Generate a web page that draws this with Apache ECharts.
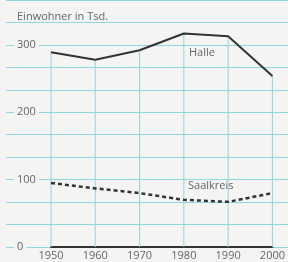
<!DOCTYPE html>
<html>
<head>
<meta charset="utf-8">
<script src="https://cdn.jsdelivr.net/npm/echarts@6/dist/echarts.min.js"></script>
<style>
  html, body { margin: 0; padding: 0; background: #f4f4f2; }
  #myechart { width: 288px; height: 262px; }
</style>
</head>
<body>
<div id="myechart"></div>
<script>
// data (thousands of inhabitants)
var years = [1950, 1960, 1970, 1980, 1990, 2000];
var halle = [289, 278, 292, 317, 313, 254];
var saalkreis = [95, 87, 80, 70, 67, 80];
var yTicks = [0, 100, 200, 300];

var bg = '#f4f4f2';
var gridColor = '#8fd6e4';
var lineColor = '#333336';
var textColor = '#666';
var font = 'Open Sans';

function pairs(xs, ys) {
  return xs.map(function (x, i) { return [x, ys[i]]; });
}

var yMax = 1100 / 3;
var yStep = 100 / 3;

var myechart = echarts.init(document.getElementById('myechart'));
myechart.setOption({
  backgroundColor: bg,
  animation: false,
  textStyle: { fontFamily: font },
  grid: [
    // wide grid: horizontal rules and y labels
    { left: 6, right: 0, top: 0, bottom: 15 },
    // plot grid
    { left: 51, right: 13, top: 0, bottom: 15 }
  ],
  xAxis: [
    { gridIndex: 0, type: 'value', min: 0, max: 1, show: false },
    {
      gridIndex: 1, type: 'value', min: 1950, max: 2000, interval: 10,
      axisLine: { show: true, onZero: false, lineStyle: { color: lineColor, width: 2 } },
      axisTick: { show: false },
      splitLine: { show: false },
      axisLabel: {
        color: textColor, fontSize: 11, margin: 3, fontFamily: font,
        formatter: function (v) { return String(v); }
      }
    }
  ],
  yAxis: [
    {
      gridIndex: 0, type: 'value', min: 0, max: yMax, interval: yStep,
      axisLine: { show: false },
      axisTick: { show: false },
      splitLine: { show: true, lineStyle: { color: [gridColor], width: 1, opacity: 1 } },
      axisLabel: {
        inside: true, margin: 8, color: textColor, fontSize: 11, fontFamily: font,
        backgroundColor: bg, padding: [0, 3],
        formatter: function (v) {
          var r = Math.round(v);
          return yTicks.indexOf(r) >= 0 && Math.abs(v - r) < 0.01 ? String(r) : '';
        }
      }
    },
    {
      gridIndex: 1, type: 'value', min: 0, max: yMax,
      show: false, splitLine: { show: false }
    }
  ],
  graphic: [
    { type: 'text', left: 17, top: 11, style: { text: 'Einwohner in Tsd.', fill: textColor, font: '11px "Open Sans"' } },
    { type: 'text', left: 189, top: 47, style: { text: 'Halle', fill: textColor, font: '11px "Open Sans"' } },
    { type: 'text', left: 188, top: 180, style: { text: 'Saalkreis', fill: textColor, font: '11px "Open Sans"' } }
  ],
  series: [
    {
      // drop lines from the Halle points
      type: 'bar', xAxisIndex: 1, yAxisIndex: 1,
      data: pairs(years, halle),
      barWidth: 1,
      itemStyle: { color: gridColor },
      silent: true, z: 1
    },
    {
      name: 'Halle', type: 'line', xAxisIndex: 1, yAxisIndex: 1,
      data: pairs(years, halle),
      symbol: 'none',
      lineStyle: { color: lineColor, width: 2 },
      z: 3
    },
    {
      name: 'Saalkreis', type: 'line', xAxisIndex: 1, yAxisIndex: 1,
      data: pairs(years, saalkreis),
      symbol: 'none',
      lineStyle: { color: lineColor, width: 2.5, type: [4, 3] },
      z: 3
    }
  ]
});
</script>
</body>
</html>
